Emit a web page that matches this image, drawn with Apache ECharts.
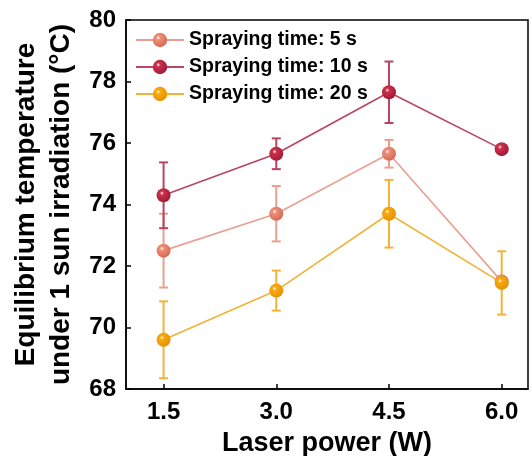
<!DOCTYPE html>
<html>
<head>
<meta charset="utf-8">
<script src="https://cdn.jsdelivr.net/npm/echarts@6/dist/echarts.min.js"></script>
<style>
  html, body { margin: 0; padding: 0; background: #fff; }
</style>
</head>
<body>
<div id="chart" style="width:532px;height:456px;"></div>
<script>
// laser power (W)
var power = [1.5, 3.0, 4.5, 6.0];
var xTicks = [1.5, 3.0, 4.5, 6.0];

// equilibrium temperature (°C) and error (±)
var temp5 = [72.5, 73.7, 75.65, 71.5];
var err5 = [1.2, 0.9, 0.45, 0];
var temp10 = [74.3, 75.65, 77.65, 75.8];
var err10 = [1.07, 0.5, 1.0, 0.05];
var temp20 = [69.6, 71.2, 73.7, 71.45];
var err20 = [1.25, 0.65, 1.1, 1.03];

var names = ['Spraying time: 5 s', 'Spraying time: 10 s', 'Spraying time: 20 s'];
var colors = ['#EE8F7A', '#CC2F4C', '#F9AA10'];
var lineColors = ['#E8A092', '#B94560', '#F3B238'];
var darkColors = ['#D86A55', '#A01C36', '#E29300'];

var font = 'Liberation Sans, Arial, sans-serif';

function pairs(ys) {
  return power.map(function (x, i) { return [x, ys[i]]; });
}

function bars(ys, es) {
  return power.map(function (x, i) { return [x, ys[i] - es[i], ys[i] + es[i]]; });
}

// glossy ball look for markers
function ball(i) {
  return {
    type: 'radial', x: 0.38, y: 0.35, r: 0.65,
    colorStops: [
      { offset: 0, color: '#ffffff' },
      { offset: 0.22, color: colors[i] },
      { offset: 1, color: darkColors[i] }
    ]
  };
}

function errRender(color) {
  return function (params, api) {
    var x = api.value(0);
    var lo = api.coord([x, api.value(1)]);
    var hi = api.coord([x, api.value(2)]);
    if (hi[1] === lo[1]) return null;
    var w = 4.5;
    var st = { stroke: color, lineWidth: 2 };
    return {
      type: 'group',
      children: [
        { type: 'line', shape: { x1: lo[0], y1: lo[1], x2: hi[0], y2: hi[1] }, style: st },
        { type: 'line', shape: { x1: hi[0] - w, y1: hi[1], x2: hi[0] + w, y2: hi[1] }, style: st },
        { type: 'line', shape: { x1: lo[0] - w, y1: lo[1], x2: lo[0] + w, y2: lo[1] }, style: st }
      ]
    };
  };
}

var temps = [temp5, temp10, temp20];
var errs = [err5, err10, err20];

var series = [];
temps.forEach(function (t, i) {
  series.push({
    type: 'custom',
    name: 'err' + i,
    renderItem: errRender(lineColors[i]),
    data: bars(t, errs[i]),
    encode: { x: 0, y: [1, 2] },
    z: 2,
    silent: true
  });
});
temps.forEach(function (t, i) {
  series.push({
    type: 'line',
    name: names[i],
    data: pairs(t),
    symbol: 'circle',
    symbolSize: 14,
    lineStyle: { color: lineColors[i], width: 1.6 },
    itemStyle: { color: ball(i) },
    z: 3
  });
});

var chart = echarts.init(document.getElementById('chart'));
chart.setOption({
  animation: false,
  grid: {
    left: 126, top: 20, right: 4, bottom: 67,
    outerBoundsMode: 'none',
    show: true, borderColor: '#000', borderWidth: 1.5
  },
  legend: {
    data: names,
    orient: 'vertical',
    left: 130, top: 25,
    itemWidth: 48, itemHeight: 18, itemGap: 7,
    textStyle: { fontFamily: font, fontWeight: 'bold', fontSize: 19.5, color: '#000' }
  },
  xAxis: {
    type: 'value',
    min: 1.0, max: 6.35,
    name: 'Laser power (W)',
    nameLocation: 'middle',
    nameGap: 41,
    nameTextStyle: { fontFamily: font, fontWeight: 'bold', fontSize: 27, color: '#000' },
    axisLine: { show: true, lineStyle: { color: '#000', width: 1.5 } },
    axisTick: { show: true, inside: true, length: 5, customValues: xTicks, lineStyle: { color: '#000', width: 1.5 } },
    axisLabel: {
      customValues: xTicks, margin: 11,
      fontFamily: font, fontWeight: 'bold', fontSize: 24, color: '#000',
      formatter: function (v) { return v.toFixed(1); }
    },
    splitLine: { show: false }
  },
  yAxis: {
    type: 'value',
    min: 68, max: 80, interval: 2,
    name: 'Equilibrium temperature\nunder 1 sun irradiation (°C)',
    nameLocation: 'middle',
    nameGap: 47,
    nameTextStyle: { fontFamily: font, fontWeight: 'bold', fontSize: 28, lineHeight: 35, color: '#000' },
    axisLine: { show: true, lineStyle: { color: '#000', width: 1.5 } },
    axisTick: { show: true, inside: true, length: 5, lineStyle: { color: '#000', width: 1.5 } },
    axisLabel: { margin: 10, fontFamily: font, fontWeight: 'bold', fontSize: 24, color: '#000' },
    splitLine: { show: false }
  },
  series: series
});
window.addEventListener('resize', function () { chart.resize(); });
</script>
</body>
</html>
